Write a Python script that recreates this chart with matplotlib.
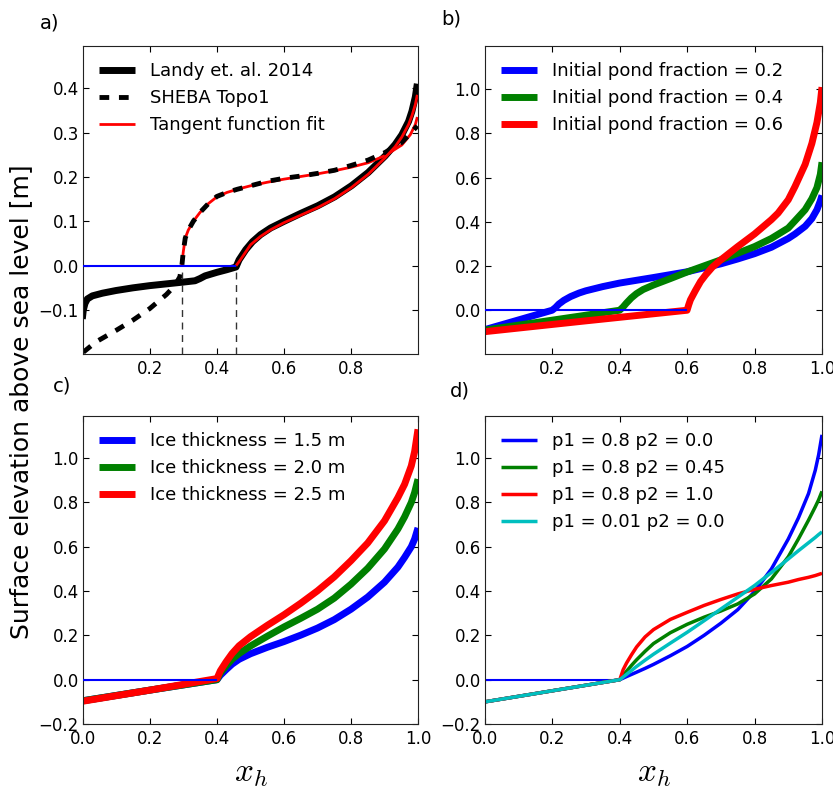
import matplotlib
matplotlib.use("Agg")
import matplotlib.pyplot as plt

# ---- panel a: measured profiles and tangent fits ----
landy_x = [0.0, 0.003, 0.008, 0.015, 0.03, 0.06, 0.1, 0.15, 0.2, 0.25, 0.3, 0.335, 0.35,
           0.365, 0.4, 0.43, 0.457, 0.466, 0.486, 0.506, 0.53, 0.56, 0.6, 0.65, 0.7, 0.75,
           0.8, 0.85, 0.9, 0.93, 0.95, 0.97, 0.98, 0.99, 0.996]
landy_y = [-0.12, -0.10, -0.085, -0.075, -0.068, -0.062, -0.056, -0.050, -0.045, -0.041,
           -0.037, -0.034, -0.029, -0.023, -0.015, -0.009, -0.003, 0.013, 0.036, 0.054,
           0.07, 0.085, 0.10, 0.118, 0.135, 0.155, 0.18, 0.21, 0.247, 0.273, 0.295, 0.325,
           0.348, 0.38, 0.41]
landy_fit_x = [0.457, 0.467, 0.485, 0.5, 0.53, 0.56, 0.6, 0.65, 0.7, 0.75, 0.8, 0.85, 0.9,
               0.93, 0.95, 0.97, 0.98, 0.99, 0.996]
landy_fit_y = [0.0, 0.01, 0.03, 0.047, 0.066, 0.081, 0.097, 0.114, 0.131, 0.151, 0.176,
               0.206, 0.243, 0.268, 0.29, 0.318, 0.338, 0.363, 0.385]
sheba_x = [0.003, 0.04, 0.1, 0.15, 0.2, 0.25, 0.275, 0.29, 0.296, 0.3, 0.306, 0.315, 0.33,
           0.35, 0.375, 0.4, 0.43, 0.46, 0.5, 0.55, 0.6, 0.65, 0.7, 0.75, 0.8, 0.85, 0.9,
           0.95, 0.975, 0.99, 0.996]
sheba_y = [-0.195, -0.172, -0.146, -0.123, -0.097, -0.065, -0.045, -0.025, 0.0, 0.03,
           0.062, 0.08, 0.1, 0.12, 0.14, 0.156, 0.165, 0.172, 0.18, 0.19, 0.197, 0.202,
           0.208, 0.215, 0.226, 0.238, 0.255, 0.278, 0.298, 0.31, 0.315]
sheba_fit_x = [0.296, 0.3, 0.306, 0.315, 0.33, 0.35, 0.375, 0.4, 0.43, 0.46, 0.5, 0.55,
               0.6, 0.65, 0.7, 0.75, 0.8, 0.85, 0.9, 0.95, 0.975, 0.99, 0.996]
sheba_fit_y = [0.0, 0.03, 0.062, 0.08, 0.1, 0.12, 0.14, 0.155, 0.165, 0.172, 0.18, 0.188,
               0.195, 0.201, 0.207, 0.214, 0.222, 0.232, 0.248, 0.272, 0.295, 0.318, 0.335]
pond_edges_a = [0.296, 0.457]

# ---- panel b: initial pond fraction ----
b_blue_x = [0.0, 0.1, 0.2, 0.21, 0.22, 0.235, 0.255, 0.28, 0.3, 0.35, 0.4, 0.5, 0.6, 0.7,
            0.75, 0.8, 0.85, 0.9, 0.92, 0.95, 0.97, 0.985, 0.995, 1.0]
b_blue_y = [-0.088, -0.044, 0.0, 0.012, 0.028, 0.045, 0.062, 0.078, 0.088, 0.107, 0.123,
            0.148, 0.174, 0.21, 0.232, 0.256, 0.285, 0.325, 0.345, 0.38, 0.415, 0.455,
            0.495, 0.52]
b_green_x = [0.0, 0.2, 0.4, 0.41, 0.42, 0.435, 0.45, 0.47, 0.5, 0.55, 0.6, 0.7, 0.8, 0.85,
             0.9, 0.92, 0.95, 0.97, 0.985, 0.995, 1.0]
b_green_y = [-0.09, -0.045, 0.0, 0.014, 0.032, 0.056, 0.075, 0.094, 0.114, 0.143, 0.173,
             0.228, 0.288, 0.325, 0.372, 0.405, 0.455, 0.505, 0.555, 0.615, 0.67]
b_red_x = [0.0, 0.3, 0.6, 0.605, 0.61, 0.625, 0.64, 0.655, 0.675, 0.7, 0.75, 0.8, 0.85,
           0.87, 0.9, 0.92, 0.95, 0.97, 0.985, 0.995, 1.0]
b_red_y = [-0.097, -0.048, 0.0, 0.025, 0.047, 0.09, 0.13, 0.16, 0.195, 0.228, 0.288, 0.345,
           0.41, 0.44, 0.5, 0.56, 0.66, 0.755, 0.85, 0.94, 1.01]
b_labels = ["Initial pond fraction = 0.2", "Initial pond fraction = 0.4",
            "Initial pond fraction = 0.6"]

# ---- panel c: ice thickness ----
c_x = [0.0, 0.2, 0.4, 0.41, 0.427, 0.445, 0.466, 0.5, 0.55, 0.6, 0.65, 0.7, 0.75, 0.8,
       0.85, 0.9, 0.94, 0.96, 0.98, 0.99, 1.0]
c_h15 = [-0.095, -0.047, 0.0, 0.02, 0.045, 0.07, 0.092, 0.117, 0.146, 0.172, 0.201, 0.233,
         0.271, 0.318, 0.373, 0.44, 0.508, 0.552, 0.6, 0.635, 0.685]
c_h20 = [-0.095, -0.047, 0.0, 0.03, 0.062, 0.092, 0.118, 0.152, 0.196, 0.238, 0.277, 0.318,
         0.368, 0.431, 0.503, 0.59, 0.68, 0.735, 0.8, 0.845, 0.905]
c_h25 = [-0.097, -0.047, 0.005, 0.04, 0.08, 0.118, 0.153, 0.194, 0.245, 0.293, 0.345, 0.401,
         0.464, 0.537, 0.617, 0.717, 0.822, 0.882, 0.965, 1.03, 1.13]
c_labels = ["Ice thickness = 1.5 m", "Ice thickness = 2.0 m", "Ice thickness = 2.5 m"]

# ---- panel d: shape parameters ----
d_x = [0.0, 0.2, 0.4, 0.41, 0.42, 0.435, 0.45, 0.475, 0.5, 0.55, 0.6, 0.65, 0.7, 0.75,
       0.8, 0.85, 0.9, 0.93, 0.96, 0.98, 0.99, 1.0]
d_p2_00 = [-0.1, -0.05, 0.0, 0.007, 0.014, 0.024, 0.034, 0.051, 0.069, 0.108, 0.15, 0.2,
           0.255, 0.316, 0.398, 0.5, 0.635, 0.73, 0.84, 0.945, 1.015, 1.105]
d_p2_45 = [-0.1, -0.05, 0.0, 0.02, 0.038, 0.065, 0.09, 0.128, 0.163, 0.212, 0.25, 0.282,
           0.31, 0.342, 0.387, 0.455, 0.555, 0.635, 0.72, 0.78, 0.812, 0.85]
d_p2_10 = [-0.1, -0.05, 0.0, 0.045, 0.075, 0.113, 0.148, 0.193, 0.226, 0.272, 0.304, 0.335,
           0.362, 0.387, 0.408, 0.425, 0.44, 0.452, 0.462, 0.47, 0.475, 0.48]
d_p1_01 = [-0.1, -0.05, 0.0, 0.012, 0.024, 0.042, 0.06, 0.088, 0.115, 0.165, 0.214, 0.266,
           0.319, 0.372, 0.425, 0.484, 0.545, 0.582, 0.618, 0.642, 0.655, 0.667]
d_labels = ["p1 = 0.8 p2 = 0.0", "p1 = 0.8 p2 = 0.45", "p1 = 0.8 p2 = 1.0",
            "p1 = 0.01 p2 = 0.0"]

plt.rcParams['font.family'] = 'DejaVu Sans'
plt.rcParams['mathtext.fontset'] = 'cm'
plt.rcParams['xtick.direction'] = 'in'
plt.rcParams['ytick.direction'] = 'in'
plt.rcParams['xtick.top'] = True
plt.rcParams['ytick.right'] = True
plt.rcParams['xtick.major.size'] = 4
plt.rcParams['ytick.major.size'] = 4
plt.rcParams['xtick.labelsize'] = 12
plt.rcParams['ytick.labelsize'] = 12
plt.rcParams['xtick.major.pad'] = 4
plt.rcParams['ytick.major.pad'] = 3
plt.rcParams['axes.edgecolor'] = '#222222'
plt.rcParams['lines.solid_capstyle'] = 'butt'

fig = plt.figure(figsize=(8.33, 7.93), dpi=100)
ax_a = fig.add_axes([0.0996, 0.5536, 0.4022, 0.3884])
ax_b = fig.add_axes([0.5822, 0.5536, 0.4046, 0.3884])
ax_c = fig.add_axes([0.0996, 0.0870, 0.4022, 0.3884])
ax_d = fig.add_axes([0.5822, 0.0870, 0.4046, 0.3884])

thick = 5
zero_kw = dict(color='b', lw=1.5, zorder=5)

# a)
ax_a.plot(landy_x, landy_y, color='k', lw=thick, label='Landy et. al. 2014')
ax_a.plot(sheba_fit_x, sheba_fit_y, color='r', lw=2)
ax_a.plot(sheba_x, sheba_y, color='k', lw=3.5, ls=(0, (2, 2)), label='SHEBA Topo1')
ax_a.plot(landy_fit_x, landy_fit_y, color='r', lw=2, label='Tangent function fit')
ax_a.plot([0, pond_edges_a[1]], [0, 0], **zero_kw)
ax_a.vlines(pond_edges_a, -0.2, 0, colors='#333333', linestyles=(0, (5, 4)), lw=1)
ax_a.set_xlim(0.002, 0.998)
ax_a.set_ylim(-0.199, 0.495)
ax_a.set_xticks([0.2, 0.4, 0.6, 0.8])
ax_a.set_yticks([-0.1, 0.0, 0.1, 0.2, 0.3, 0.4])
ax_a.legend(loc='upper left', frameon=False, fontsize=13)

# b)
for xs, ys, col, lab in zip([b_blue_x, b_green_x, b_red_x], [b_blue_y, b_green_y, b_red_y],
                            ['b', 'g', 'r'], b_labels):
    ax_b.plot(xs, ys, color=col, lw=thick, label=lab)
ax_b.plot([0, 0.6], [0, 0], **zero_kw)
ax_b.set_xlim(0.001, 1.0)
ax_b.set_ylim(-0.198, 1.196)
ax_b.set_xticks([0.2, 0.4, 0.6, 0.8, 1.0])
ax_b.set_yticks([0.0, 0.2, 0.4, 0.6, 0.8, 1.0])
ax_b.legend(loc='upper left', frameon=False, fontsize=13)

# c)
for ys, col, lab in zip([c_h15, c_h20, c_h25], ['b', 'g', 'r'], c_labels):
    ax_c.plot(c_x, ys, color=col, lw=thick, label=lab)
ax_c.plot([0, 0.4], [0, 0], **zero_kw)
ax_c.set_xlim(0, 1.0)
ax_c.set_ylim(-0.2, 1.19)
ax_c.set_yticks([-0.2, 0.0, 0.2, 0.4, 0.6, 0.8, 1.0])
ax_c.legend(loc='upper left', frameon=False, fontsize=13)

# d)
ax_d.plot([0, 0.4], [0, 0], color='b', lw=1.5)
for ys, col, lab in zip([d_p2_00, d_p2_45, d_p2_10, d_p1_01], ['b', 'g', 'r', 'c'], d_labels):
    ax_d.plot(d_x, ys, color=col, lw=2.5, label=lab)
ax_d.set_xlim(0, 1.0)
ax_d.set_ylim(-0.2, 1.19)
ax_d.set_yticks([-0.2, 0.0, 0.2, 0.4, 0.6, 0.8, 1.0])
ax_d.legend(loc='upper left', frameon=False, fontsize=13)

for ax in (ax_c, ax_d):
    ax.set_xticks([0.0, 0.2, 0.4, 0.6, 0.8, 1.0])
    ax.set_xlabel(r'$x_h$', fontsize=24, labelpad=6)

fig.text(0.048, 0.983, 'a)', fontsize=14, va='top')
fig.text(0.530, 0.988, 'b)', fontsize=14, va='top')
fig.text(0.064, 0.525, 'c)', fontsize=14, va='top')
fig.text(0.540, 0.519, 'd)', fontsize=14, va='top')
fig.text(0.025, 0.494, 'Surface elevation above sea level [m]', fontsize=18,
         rotation=90, ha='center', va='center')

fig.savefig('out.png', dpi=100, facecolor='white')
